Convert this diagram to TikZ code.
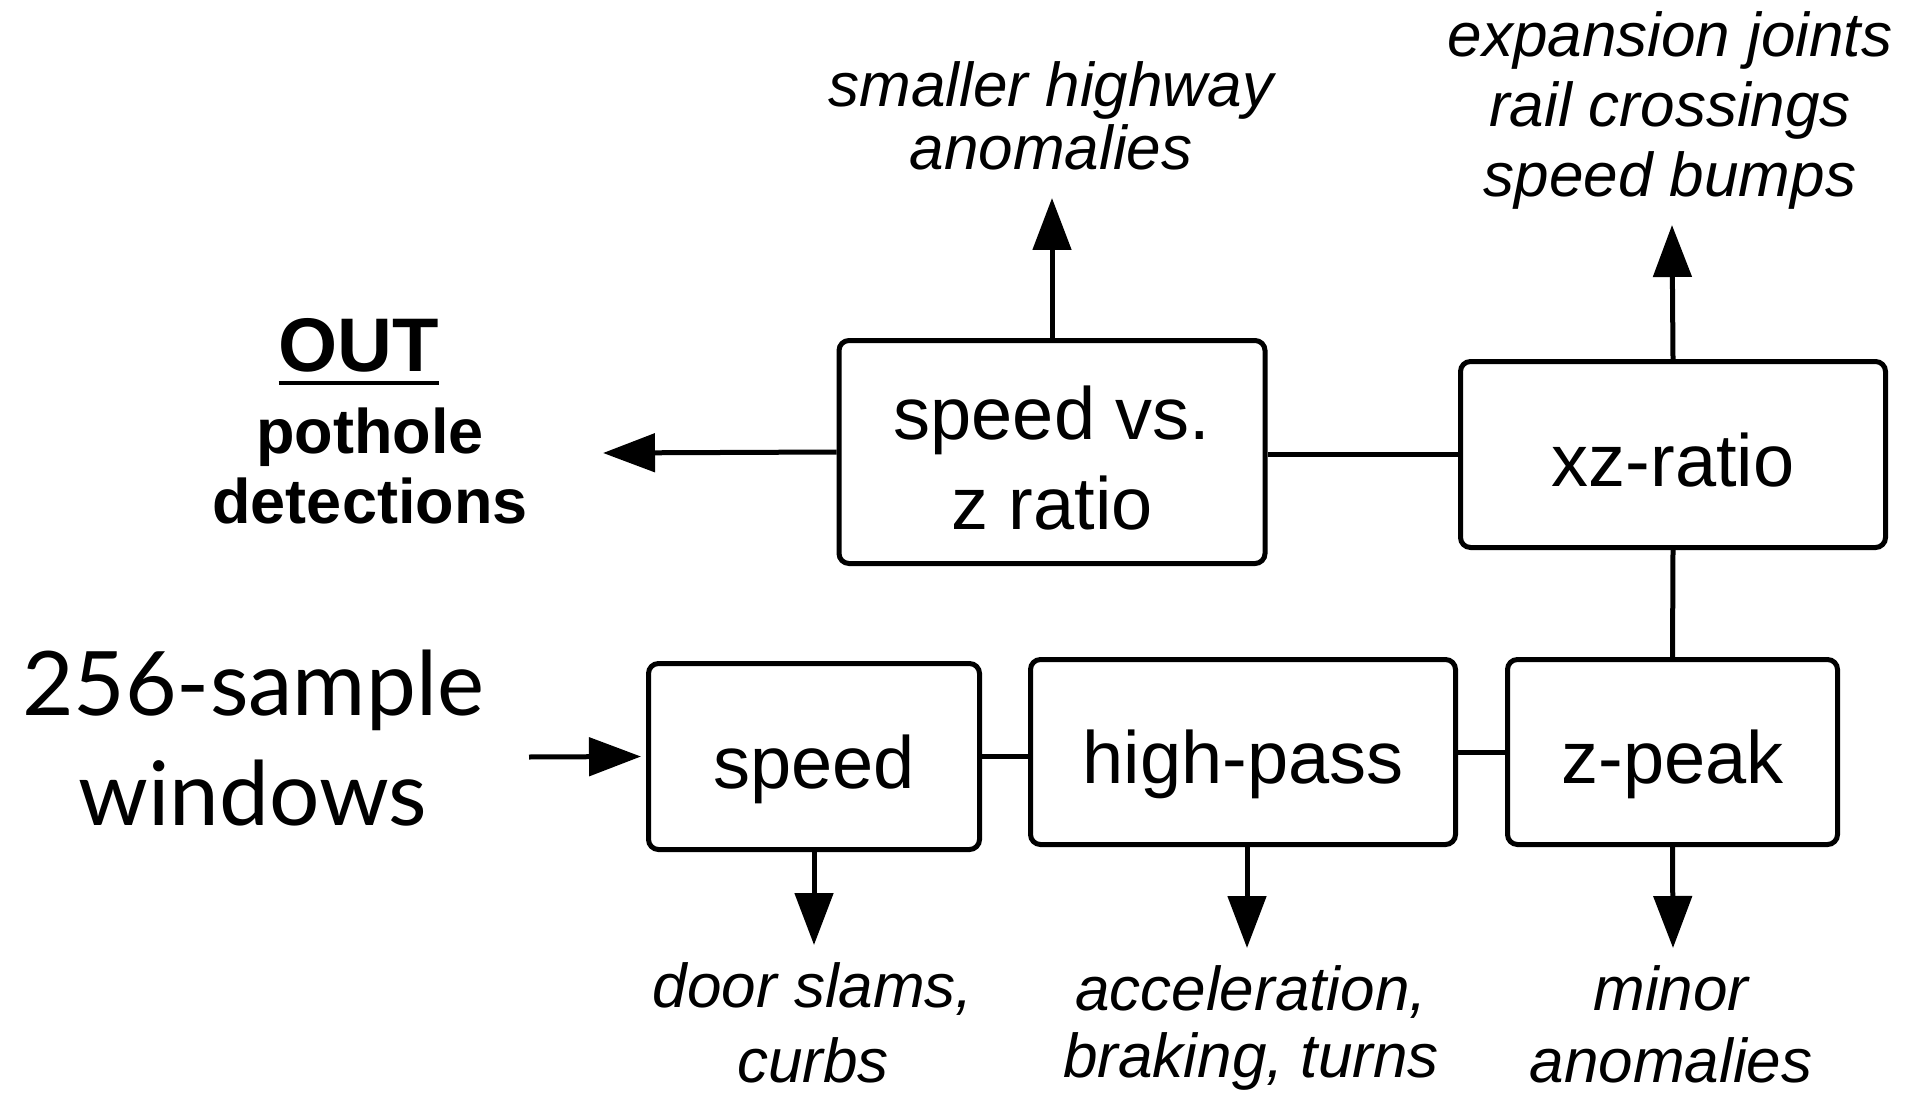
\documentclass[tikz,border=0pt]{standalone}
\usepackage{fontspec}
\setmainfont{Liberation Sans}
\newfontfamily\gillfont{Lato}
\usetikzlibrary{arrows.meta}
\begin{document}
\begin{tikzpicture}[x=1pt,y=-1pt,
  stage/.style={draw, line width=5pt, rounded corners=10pt, inner sep=0pt,
    align=center, font=\fontsize{74}{90}\selectfont,
    text height=63pt, text depth=0pt},
  link/.style={line width=5pt},
  flow/.style={line width=5pt, -{Triangle[length=52pt,width=38pt]}},
  note/.style={inner sep=0pt, align=center, anchor=base,
    font=\fontsize{62}{70}\selectfont\itshape},
]
\useasboundingbox (0,0) rectangle (1908,1099);

% processing stages
\node[stage, minimum width=426pt, minimum height=223pt, text height=154pt] (svz) at (1052,452) {speed vs.\\z ratio};
\node[stage, minimum width=425pt, minimum height=186pt] (xz) at (1673,454.5) {xz-ratio};
\node[stage, minimum width=331pt, minimum height=186pt] (speed) at (814,756.5) {speed};
\node[stage, minimum width=425pt, minimum height=185pt] (hp) at (1243,752) {high-pass};
\node[stage, minimum width=330pt, minimum height=185pt] (zp) at (1672.5,752) {z-peak};

% input and output text (anchored at the baseline of the last line)
\node[inner sep=0pt, anchor=base, align=center, font=\gillfont\fontsize{89}{110}\selectfont]
  (win) at (253,825) {256-sample\\windows};
\node[inner sep=0pt, anchor=base, font=\fontsize{76}{90}\selectfont\bfseries] (out) at (359,371) {OUT};
\draw[line width=4pt] ([yshift=-12pt]out.base west) -- ([yshift=-12pt]out.base east);
\node[inner sep=0pt, anchor=base, align=center, font=\fontsize{63}{70}\selectfont\bfseries]
  (det) at (370,523) {pothole\\detections};

% rejected event classes
\node[note, font=\fontsize{62}{63}\selectfont\itshape] (nsvz) at (1051,170) {smaller highway\\anomalies};
\node[note] (nxz) at (1670,197) {expansion joints\\rail crossings\\speed bumps};
\node[note, font=\fontsize{62}{75}\selectfont\itshape] (nspeed) at (813,1082) {door slams,\\curbs};
\node[note, font=\fontsize{62}{67}\selectfont\itshape] (nhp) at (1251,1077) {acceleration,\\braking, turns};
\node[note, font=\fontsize{62}{72}\selectfont\itshape] (nzp) at (1671,1082) {minor\\anomalies};

% arrow end points
\coordinate (inp) at (529,757);
\coordinate (pout) at (603,453);
\coordinate (svzout) at (1052,198);
\coordinate (xzout) at (1672,225);
\coordinate (speedout) at (814,945);
\coordinate (hpout) at (1247,948);
\coordinate (zpout) at (1673,948);

% chain of stages
\draw[flow] (inp) -- ([xshift=-5pt]speed.west);
\draw[link] (speed.east) -- (speed.east -| hp.west);
\draw[link] (hp.east) -- (hp.east -| zp.west);
\draw[link] (zp.north) -- (xz.south);
\draw[link] (xz.west) -- (xz.west -| svz.east);
\draw[flow] (svz.west) -- (pout);

% outputs of each stage
\draw[flow] (svz.north) -- (svzout);
\draw[flow] (xz.north) -- (xzout);
\draw[flow] (speed.south) -- (speedout);
\draw[flow] (hp.south -| hpout) -- (hpout);
\draw[flow] (zp.south) -- (zpout);
\end{tikzpicture}
\end{document}
